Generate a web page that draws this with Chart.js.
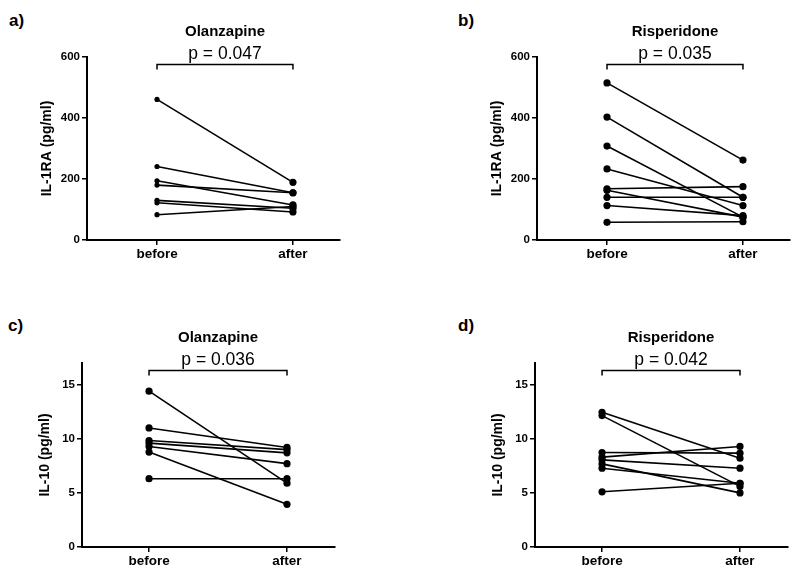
<!DOCTYPE html>
<html>
<head>
<meta charset="utf-8">
<script src="https://cdn.jsdelivr.net/npm/chart.js@4.4.0/dist/chart.umd.min.js"></script>
<style>
  body { margin: 0; background: #fff; width: 807px; height: 569px; position: relative; overflow: hidden;
         font-family: "Liberation Sans", Arial, sans-serif; }
  canvas { position: absolute; }
  .lbl { position: absolute; font-weight: bold; font-size: 17px; color: #000; line-height: 1; }
</style>
</head>
<body>
<div class="lbl" style="left:9px;top:12px">a)</div>
<div class="lbl" style="left:458px;top:12px">b)</div>
<div class="lbl" style="left:8px;top:317px">c)</div>
<div class="lbl" style="left:458px;top:317px">d)</div>
<canvas id="cA" width="400" height="262" style="left:0;top:0"></canvas>
<canvas id="cB" width="357" height="262" style="left:450px;top:0"></canvas>
<canvas id="cC" width="400" height="284" style="left:0;top:285px"></canvas>
<canvas id="cD" width="354" height="284" style="left:453px;top:285px"></canvas>
<script>
const categories = ['before', 'after'];

// IL-1RA (pg/ml)
const olzRaBefore = [461, 241, 194, 180, 130, 122, 83];
const olzRaAfter  = [189, 155, 115, 155, 104, 92, 110];
const risRaBefore = [515, 403, 308, 233, 168, 163, 140, 113, 58];
const risRaAfter  = [262, 140, 75, 113, 175, 75, 140, 80, 60];

// IL-10 (pg/ml)
const olzIlBefore = [14.4, 11.0, 9.84, 9.6, 9.29, 8.77, 6.31];
const olzIlAfter  = [5.9, 9.2, 9.0, 8.7, 7.7, 3.94, 6.31];
const risIlBefore = [12.45, 12.14, 8.73, 8.3, 8.05, 7.68, 7.28, 5.1];
const risIlAfter  = [8.2, 5.6, 8.67, 9.29, 7.28, 5.0, 5.89, 5.89];

const raTicks = [0, 200, 400, 600];
const ilTicks = [0, 5, 10, 15];

const FONT = '"Liberation Sans", Arial, sans-serif';
Chart.defaults.color = '#000';
Chart.defaults.font.family = FONT;

// title, p value and bracket above each panel
const annot = {
  id: 'annot',
  afterDraw(chart, args, o) {
    const { ctx, chartArea: { top }, scales: { x } } = chart;
    const x1 = x.getPixelForValue(1), x2 = x.getPixelForValue(2), cx = (x1 + x2) / 2;
    ctx.save();
    ctx.fillStyle = '#000';
    ctx.textAlign = 'center';
    ctx.textBaseline = 'alphabetic';
    ctx.font = 'bold 15px ' + FONT;
    ctx.fillText(o.title, cx, top - 21.5);
    ctx.font = '17.5px ' + FONT;
    ctx.fillText(o.p, cx, top + 2);
    ctx.strokeStyle = '#000';
    ctx.lineWidth = 1.5;
    ctx.beginPath();
    ctx.moveTo(x1, top + 12.5);
    ctx.lineTo(x1, top + 7.5);
    ctx.lineTo(x2, top + 7.5);
    ctx.lineTo(x2, top + 12.5);
    ctx.stroke();
    ctx.restore();
  }
};

function makePanel(p) {
  const datasets = p.before.map((b, i) => ({
    data: [{ x: 1, y: b }, { x: 2, y: p.after[i] }],
    showLine: true,
    borderColor: '#000',
    backgroundColor: '#000',
    borderWidth: 1.6,
    pointRadius: [p.rBefore, p.rAfter],
    pointBorderWidth: 0,
    clip: false
  }));

  new Chart(document.getElementById(p.id), {
    type: 'scatter',
    data: { datasets },
    plugins: [annot],
    options: {
      responsive: false,
      animation: false,
      layout: { padding: p.pad },
      plugins: {
        legend: { display: false },
        tooltip: { enabled: false },
        annot: { title: p.title, p: p.p }
      },
      scales: {
        x: {
          type: 'linear',
          min: p.xMin,
          max: p.xMax,
          afterBuildTicks: s => { s.ticks = [{ value: 1 }, { value: 2 }]; },
          afterFit: s => { s.height = 22; },
          ticks: {
            callback: v => categories[v - 1],
            font: { size: 13.5, weight: 'bold' },
            padding: 1,
            maxRotation: 0,
            autoSkip: false
          },
          grid: { drawOnChartArea: false, drawTicks: true, tickLength: 5, color: '#000', lineWidth: 1.5 },
          border: { display: true, color: '#000', width: 2 }
        },
        y: {
          min: 0,
          max: p.yMax,
          afterBuildTicks: s => { s.ticks = p.yTicks.map(v => ({ value: v })); },
          afterFit: s => { s.width = p.yW; },
          ticks: { font: { size: 11.5, weight: 'bold' }, padding: 2 },
          grid: { drawOnChartArea: false, drawTicks: true, tickLength: 5, color: '#000', lineWidth: 1.5 },
          border: { display: true, color: '#000', width: 2 },
          title: {
            display: true,
            text: p.yTitle,
            font: { size: 14, weight: 'bold' },
            padding: 0
          }
        }
      }
    }
  });
}

makePanel({ id: 'cA', before: olzRaBefore, after: olzRaAfter, title: 'Olanzapine', p: 'p = 0.047',
  yTitle: 'IL-1RA (pg/ml)', yMax: 600, yTicks: raTicks,
  pad: { left: 39, top: 57, right: 60, bottom: 0 }, yW: 48, xMin: 0.485, xMax: 2.346, rBefore: 2.6, rAfter: 3.6 });
makePanel({ id: 'cB', before: risRaBefore, after: risRaAfter, title: 'Risperidone', p: 'p = 0.035',
  yTitle: 'IL-1RA (pg/ml)', yMax: 600, yTicks: raTicks,
  pad: { left: 39, top: 57, right: 17, bottom: 0 }, yW: 48, xMin: 0.485, xMax: 2.346, rBefore: 3.6, rAfter: 3.6 });
makePanel({ id: 'cC', before: olzIlBefore, after: olzIlAfter, title: 'Olanzapine', p: 'p = 0.036',
  yTitle: 'IL-10 (pg/ml)', yMax: 17, yTicks: ilTicks,
  pad: { left: 37, top: 78, right: 65, bottom: 0 }, yW: 45, xMin: 0.514, xMax: 2.348, rBefore: 3.6, rAfter: 3.6 });
makePanel({ id: 'cD', before: risIlBefore, after: risIlAfter, title: 'Risperidone', p: 'p = 0.042',
  yTitle: 'IL-10 (pg/ml)', yMax: 17, yTicks: ilTicks,
  pad: { left: 37, top: 78, right: 19, bottom: 0 }, yW: 45, xMin: 0.514, xMax: 2.348, rBefore: 3.6, rAfter: 3.6 });
</script>
</body>
</html>
